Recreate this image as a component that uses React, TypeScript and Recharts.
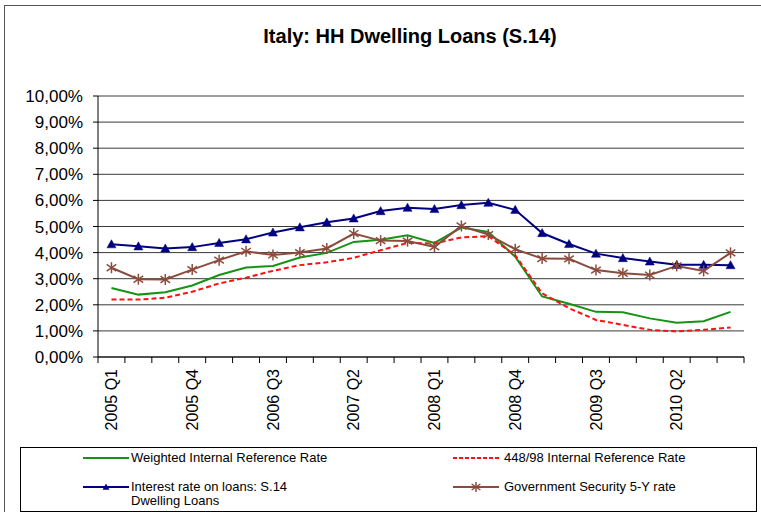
import React from 'react';
import { LineChart, Line, XAxis, YAxis, CartesianGrid } from 'recharts';

const quarters = [
  '2005 Q1', '2005 Q2', '2005 Q3', '2005 Q4',
  '2006 Q1', '2006 Q2', '2006 Q3', '2006 Q4',
  '2007 Q1', '2007 Q2', '2007 Q3', '2007 Q4',
  '2008 Q1', '2008 Q2', '2008 Q3', '2008 Q4',
  '2009 Q1', '2009 Q2', '2009 Q3', '2009 Q4',
  '2010 Q1', '2010 Q2', '2010 Q3', '2010 Q4',
];

const weightedRate = [2.64, 2.39, 2.48, 2.74, 3.14, 3.43, 3.49, 3.81, 3.99, 4.41, 4.49, 4.66, 4.37, 4.96, 4.79, 3.84, 2.32, 2.04, 1.73, 1.71, 1.48, 1.31, 1.37, 1.73];
const law448Rate = [2.2, 2.2, 2.27, 2.5, 2.82, 3.04, 3.3, 3.52, 3.63, 3.8, 4.09, 4.37, 4.35, 4.58, 4.63, 3.9, 2.44, 1.87, 1.42, 1.23, 1.04, 0.98, 1.04, 1.13];
const loanRate = [4.32, 4.24, 4.16, 4.21, 4.37, 4.51, 4.77, 4.97, 5.16, 5.31, 5.59, 5.72, 5.67, 5.82, 5.91, 5.64, 4.75, 4.33, 3.96, 3.79, 3.66, 3.53, 3.53, 3.52];
const govtRate = [3.42, 2.98, 2.97, 3.35, 3.71, 4.05, 3.91, 4.0, 4.16, 4.73, 4.46, 4.44, 4.22, 5.02, 4.69, 4.13, 3.77, 3.76, 3.33, 3.21, 3.14, 3.49, 3.3, 3.99];

const yTicks = [0, 1, 2, 3, 4, 5, 6, 7, 8, 9, 10];
const labelEvery = 3;

const data = quarters.map((q, i) => ({
  i,
  q,
  weighted: weightedRate[i],
  law448: law448Rate[i],
  loans: loanRate[i],
  govt: govtRate[i],
}));

const labelTicks = quarters.map((_, i) => i).filter((i) => i % labelEvery === 0);
const boundaryTicks = [...quarters.map((_, i) => i - 0.5), quarters.length - 0.5];
const xDomain = [-0.5, quarters.length - 0.5];

const GREEN = '#169216';
const RED = '#ff1010';
const NAVY = '#000080';
const BROWN = '#8c4b3c';
const FONT = '"Liberation Sans", Arial, sans-serif';

const fmtPct = (v: number) => `${v.toFixed(2).replace('.', ',')}%`;

const triangle = (cx: number, cy: number, r: number) =>
  `M${cx},${cy - r}L${cx + r},${cy + r * 0.8}L${cx - r},${cy + r * 0.8}Z`;

const TriDot = (props: any) => {
  const { cx, cy, index } = props;
  if (cx == null || cy == null) return null;
  return <path key={`tri-${index}`} d={triangle(cx, cy, 4.5)} fill={NAVY} stroke={NAVY} strokeWidth={0.5} />;
};

const Star = ({ cx, cy, r, color }: { cx: number; cy: number; r: number; color: string }) => (
  <g stroke={color} strokeWidth={1.5}>
    <line x1={cx} y1={cy - r} x2={cx} y2={cy + r} />
    <line x1={cx - r * 0.87} y1={cy - r * 0.6} x2={cx + r * 0.87} y2={cy + r * 0.6} />
    <line x1={cx - r * 0.87} y1={cy + r * 0.6} x2={cx + r * 0.87} y2={cy - r * 0.6} />
  </g>
);

const StarDot = (props: any) => {
  const { cx, cy, index } = props;
  if (cx == null || cy == null) return null;
  return (
    <g key={`star-${index}`}>
      <Star cx={cx} cy={cy} r={5.5} color={BROWN} />
    </g>
  );
};

const QuarterTick = (props: any) => {
  const { x, y, payload } = props;
  const label = quarters[payload.value] ?? '';
  return (
    <text
      x={x}
      y={y}
      transform={`rotate(-90, ${x}, ${y})`}
      textAnchor="end"
      dy="0.36em"
      fontSize={16}
      fontFamily={FONT}
      fill="#000"
    >
      {label}
    </text>
  );
};

const LegendIcon = ({ kind }: { kind: string }) => (
  <svg width={46} height={12} style={{ display: 'block' }}>
    {kind === 'weighted' && <line x1={0} y1={6} x2={46} y2={6} stroke={GREEN} strokeWidth={2} />}
    {kind === 'law448' && <line x1={0} y1={6} x2={46} y2={6} stroke={RED} strokeWidth={2} strokeDasharray="4 2" />}
    {kind === 'loans' && (
      <>
        <line x1={0} y1={6} x2={46} y2={6} stroke={NAVY} strokeWidth={2} />
        <path d={triangle(23, 6, 3.5)} fill={NAVY} />
      </>
    )}
    {kind === 'govt' && (
      <>
        <line x1={0} y1={6} x2={46} y2={6} stroke={BROWN} strokeWidth={2} />
        <Star cx={23} cy={6} r={5} color={BROWN} />
      </>
    )}
  </svg>
);

const legendText: React.CSSProperties = {
  position: 'absolute',
  fontSize: 13,
  lineHeight: '14px',
  color: '#000',
  fontFamily: FONT,
};

export default function App() {
  return (
    <div
      style={{
        position: 'absolute',
        left: 0,
        top: 0,
        width: 761,
        height: 512,
        overflow: 'hidden',
        background: '#fff',
        fontFamily: FONT,
      }}
    >
      <div
        style={{
          position: 'absolute',
          left: 4,
          top: 5,
          width: 800,
          height: 600,
          border: '1px solid #555',
        }}
      />
      <div
        style={{
          position: 'absolute',
          left: 0,
          top: 25,
          width: 820,
          textAlign: 'center',
          fontSize: 20,
          fontWeight: 'bold',
          color: '#000',
        }}
      >
        Italy: HH Dwelling Loans (S.14)
      </div>

      <div style={{ position: 'absolute', left: 0, top: 0 }}>
        <LineChart width={761} height={512} data={data} margin={{ top: 96, right: 17, left: 8, bottom: 74 }}>
          <CartesianGrid vertical={false} stroke="#3a3a3a" xAxisId="lab" />
          <XAxis
            xAxisId="bounds"
            type="number"
            dataKey="i"
            domain={xDomain}
            ticks={boundaryTicks}
            interval={0}
            height={1}
            tickSize={6}
            tickFormatter={() => ''}
            axisLine={{ stroke: '#000' }}
            tickLine={{ stroke: '#000' }}
          />
          <XAxis
            xAxisId="lab"
            type="number"
            dataKey="i"
            domain={xDomain}
            ticks={labelTicks}
            interval={0}
            height={80}
            axisLine={false}
            tickLine={false}
            tickSize={0}
            tickMargin={11}
            tick={<QuarterTick />}
          />
          <YAxis
            domain={[0, 10]}
            ticks={yTicks}
            interval={0}
            width={90}
            tickSize={5}
            tickMargin={10}
            tickFormatter={fmtPct}
            axisLine={{ stroke: '#000' }}
            tickLine={{ stroke: '#000' }}
            tick={{ fontSize: 17, fill: '#000', fontFamily: FONT }}
          />
          <Line
            xAxisId="lab"
            type="linear"
            dataKey="weighted"
            stroke={GREEN}
            strokeWidth={2}
            dot={false}
            isAnimationActive={false}
          />
          <Line
            xAxisId="lab"
            type="linear"
            dataKey="law448"
            stroke={RED}
            strokeWidth={2}
            strokeDasharray="5 3"
            dot={false}
            isAnimationActive={false}
          />
          <Line
            xAxisId="lab"
            type="linear"
            dataKey="loans"
            stroke={NAVY}
            strokeWidth={2}
            dot={TriDot}
            isAnimationActive={false}
          />
          <Line
            xAxisId="lab"
            type="linear"
            dataKey="govt"
            stroke={BROWN}
            strokeWidth={2}
            dot={StarDot}
            isAnimationActive={false}
          />
        </LineChart>
      </div>

      <div
        style={{
          position: 'absolute',
          left: 20,
          top: 447,
          width: 735,
          height: 63,
          border: '1px solid #000',
        }}
      >
        <div style={{ position: 'absolute', left: 62, top: 4 }}>
          <LegendIcon kind="weighted" />
        </div>
        <div style={{ ...legendText, left: 110, top: 3 }}>Weighted Internal Reference Rate</div>
        <div style={{ position: 'absolute', left: 432, top: 4 }}>
          <LegendIcon kind="law448" />
        </div>
        <div style={{ ...legendText, left: 483, top: 3 }}>448/98 Internal Reference Rate</div>
        <div style={{ position: 'absolute', left: 62, top: 33 }}>
          <LegendIcon kind="loans" />
        </div>
        <div style={{ ...legendText, left: 110, top: 32 }}>
          Interest rate on loans: S.14
          <br />
          Dwelling Loans
        </div>
        <div style={{ position: 'absolute', left: 432, top: 33 }}>
          <LegendIcon kind="govt" />
        </div>
        <div style={{ ...legendText, left: 483, top: 32 }}>Government Security 5-Y rate</div>
      </div>
    </div>
  );
}
